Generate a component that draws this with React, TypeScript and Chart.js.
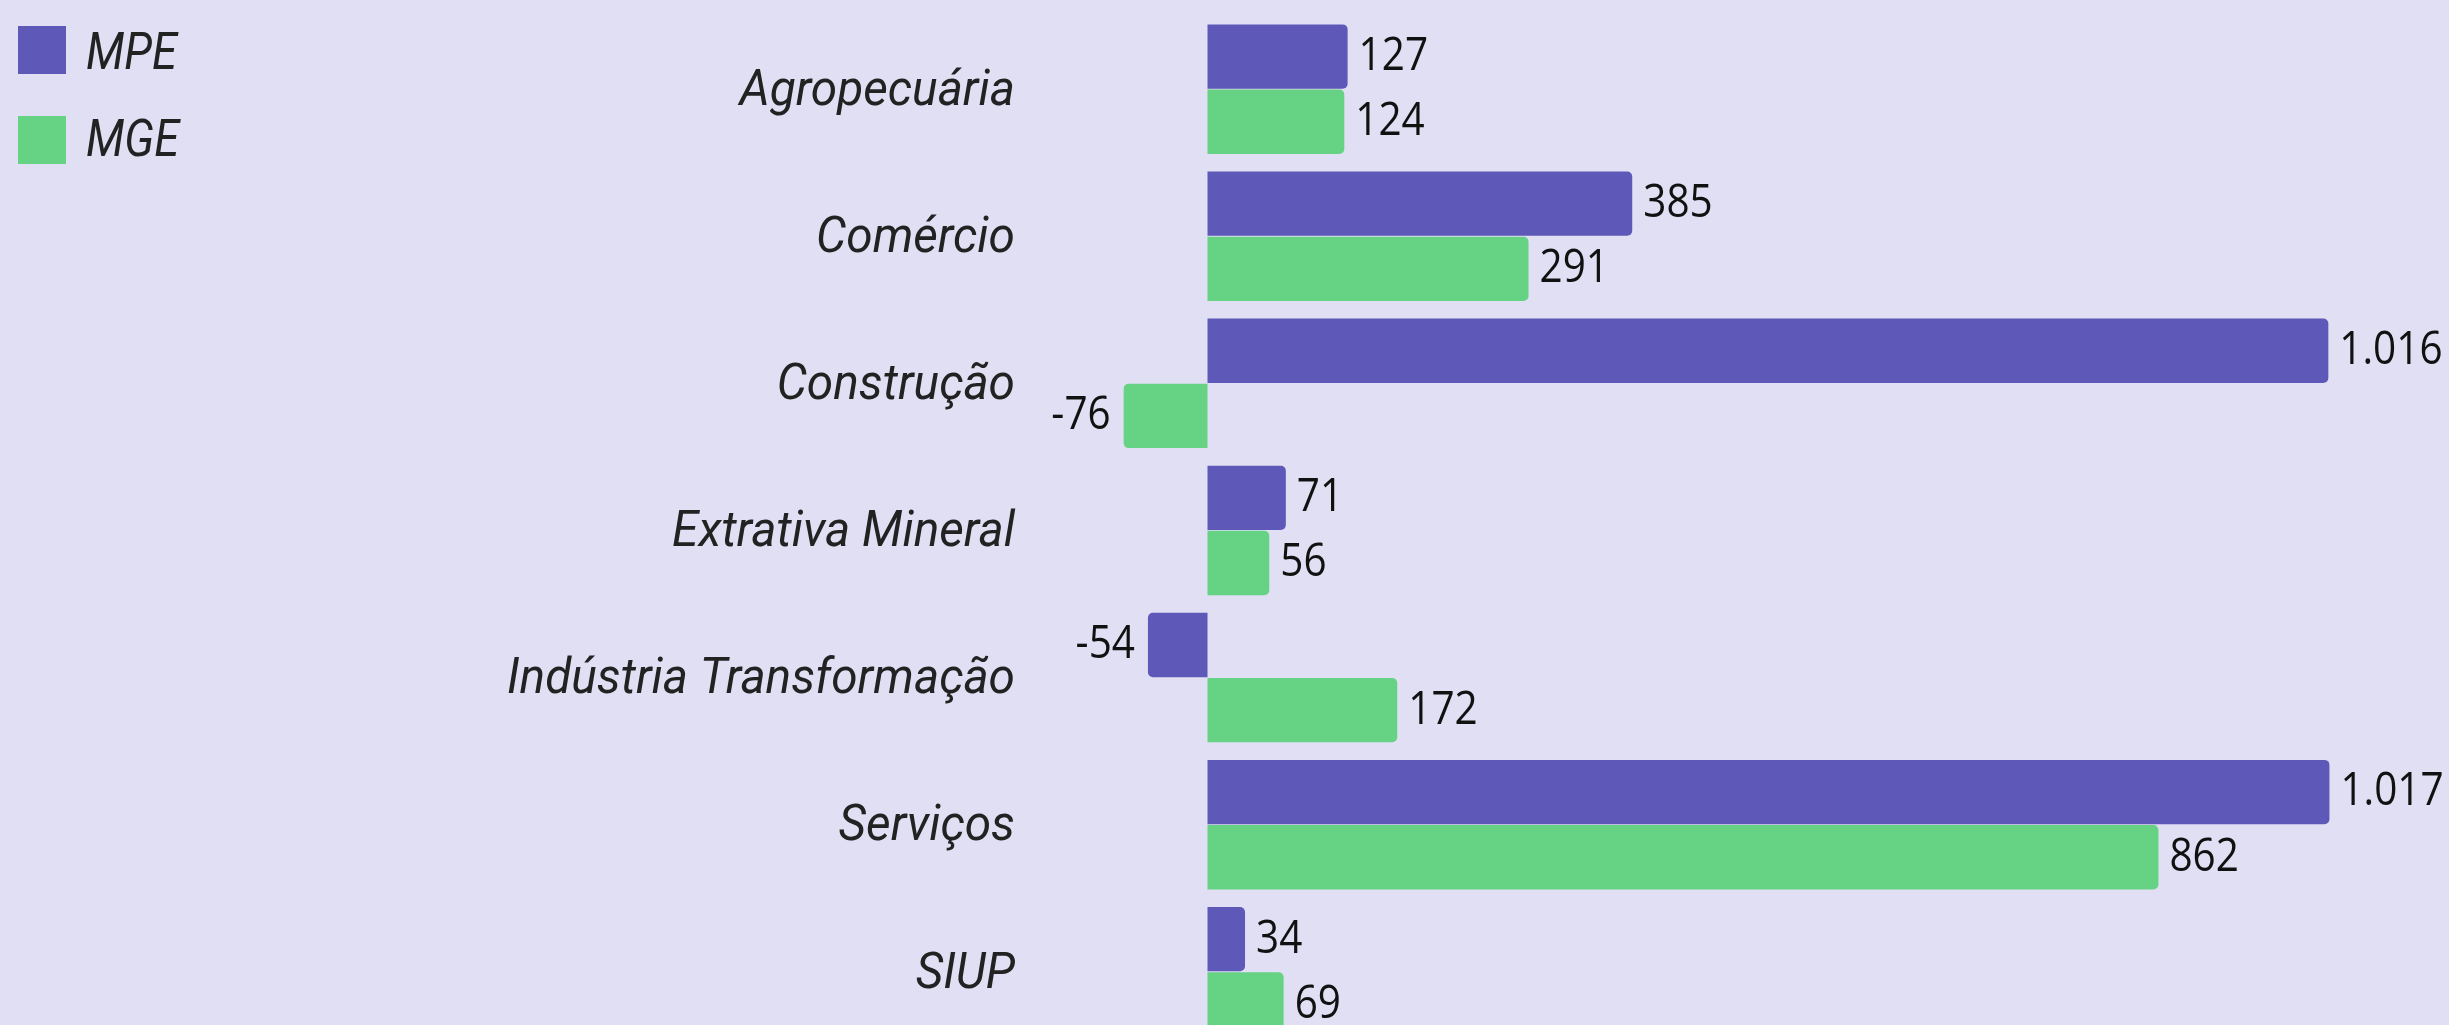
import React, { useEffect, useRef } from "react";
import { Chart, registerables } from "chart.js";

Chart.register(...registerables);

const categories = [
  "Agropecuária",
  "Comércio",
  "Construção",
  "Extrativa Mineral",
  "Indústria Transformação",
  "Serviços",
  "SIUP",
];
const seriesNames = ["MPE", "MGE"];
const mpeValues = [127, 385, 1016, 71, -54, 1017, 34];
const mgeValues = [124, 291, -76, 56, 172, 862, 69];
const seriesColors = ["#5e58b9", "#66d283"];

const BG = "#e0dff3";
const W = 2449;
const H = 1060;

function fmt(v: number): string {
  const s = Math.abs(v).toString();
  const withSep = s.replace(/\B(?=(\d{3})+(?!\d))/g, ".");
  return (v < 0 ? "-" : "") + withSep;
}

function drawScaled(
  ctx: CanvasRenderingContext2D,
  text: string,
  x: number,
  y: number,
  align: CanvasTextAlign,
  sx: number
) {
  ctx.save();
  ctx.translate(x, y);
  ctx.scale(sx, 1);
  ctx.textAlign = align;
  ctx.textBaseline = "alphabetic";
  ctx.fillText(text, 0, 0);
  ctx.restore();
}

const labelsPlugin = {
  id: "customLabels",
  afterDatasetsDraw(chart: any) {
    const ctx: CanvasRenderingContext2D = chart.ctx;
    ctx.save();
    // value labels
    ctx.font = "400 46px 'Open Sans'";
    ctx.fillStyle = "#111111";
    chart.data.datasets.forEach((ds: any, di: number) => {
      const meta = chart.getDatasetMeta(di);
      meta.data.forEach((el: any, i: number) => {
        const v = ds.data[i];
        const baseline = el.y - 3 + 16.4;
        if (v >= 0) {
          drawScaled(ctx, fmt(v), el.x + 11, baseline, "left", 0.88);
        } else {
          drawScaled(ctx, fmt(v), el.x - 13, baseline, "right", 0.88);
        }
      });
    });
    // category labels
    const yScale = chart.scales.y;
    ctx.font = "italic 400 50px Roboto";
    ctx.fillStyle = "#222222";
    categories.forEach((c, i) => {
      const cy = yScale.getPixelForValue(i);
      drawScaled(ctx, c, 1015, cy - 2 + 17.8, "right", 0.955);
    });
    // legend
    const legendY = [26, 116];
    const textOffsets = [0, -3];
    seriesNames.forEach((n, i) => {
      ctx.fillStyle = seriesColors[i];
      ctx.fillRect(18, legendY[i], 48, 48);
      ctx.fillStyle = "#222222";
      ctx.font = "italic 400 52px Roboto";
      drawScaled(ctx, n, 86, legendY[i] + 24 + 18.5 + textOffsets[i], "left", 0.87);
    });
    ctx.restore();
  },
};

export default function App() {
  const ref = useRef<HTMLCanvasElement | null>(null);

  useEffect(() => {
    document.body.style.margin = "0";
    document.body.style.background = BG;
    document.body.style.overflow = "hidden";
    const canvas = ref.current;
    if (!canvas) return;
    const chart = new Chart(canvas, {
      type: "bar",
      data: {
        labels: categories,
        datasets: [
          {
            label: seriesNames[0],
            data: mpeValues,
            backgroundColor: seriesColors[0],
            borderRadius: 5,
            barPercentage: 0.987,
            categoryPercentage: 0.886,
          },
          {
            label: seriesNames[1],
            data: mgeValues,
            backgroundColor: seriesColors[1],
            borderRadius: 5,
            barPercentage: 0.987,
            categoryPercentage: 0.886,
          },
        ],
      },
      options: {
        indexAxis: "y",
        responsive: false,
        maintainAspectRatio: false,
        animation: false,
        devicePixelRatio: 1,
        layout: {
          padding: { left: 1031, right: 28, top: 15.6, bottom: 14.7 },
        },
        scales: {
          x: { display: false, min: -160, max: 1100 },
          y: { display: false },
        },
        plugins: {
          legend: { display: false },
          tooltip: { enabled: false },
        },
      },
      plugins: [labelsPlugin],
    });
    return () => chart.destroy();
  }, []);

  return (
    <div
      style={{
        position: "fixed",
        left: 0,
        top: 0,
        width: W,
        height: 1025,
        overflow: "hidden",
        background: BG,
      }}
    >
      <canvas
        ref={ref}
        width={W}
        height={H}
        style={{ display: "block", width: W, height: H }}
      />
    </div>
  );
}
